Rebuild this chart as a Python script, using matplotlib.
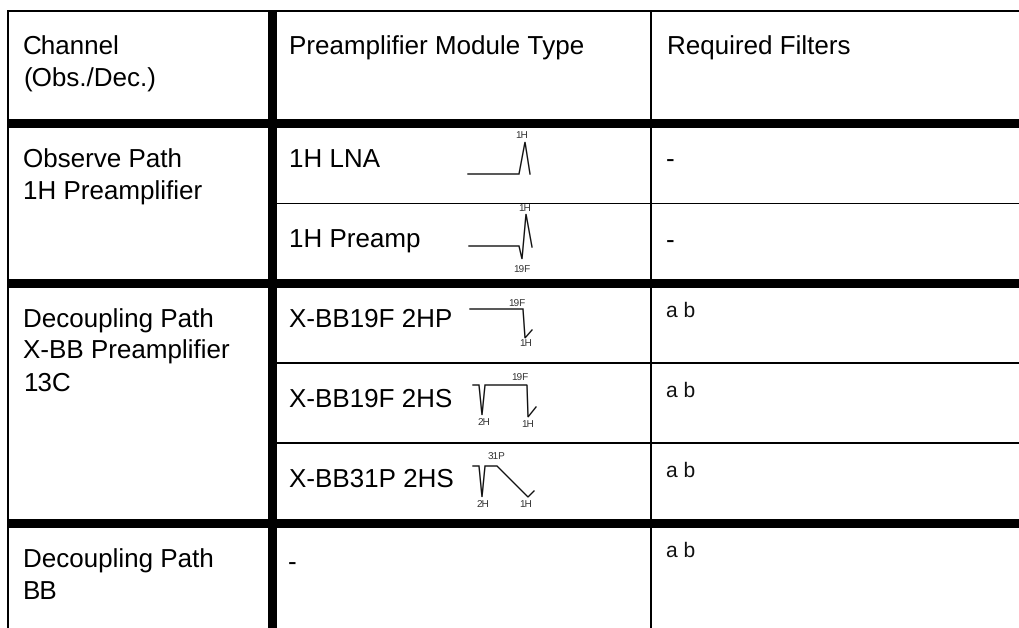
import matplotlib
matplotlib.use("Agg")
import matplotlib.pyplot as plt

plt.rcParams["font.family"] = ["Liberation Sans", "DejaVu Sans"]
plt.rcParams["text.hinting"] = "no_hinting"
plt.rcParams["text.hinting_factor"] = 1

# table rules in pixels: (top edge, bottom edge, left end)
hRules = [
    (10, 12, 7),
    (119, 128, 7),
    (203, 204, 277),
    (279, 288, 7),
    (362, 364, 277),
    (442, 444, 277),
    (519, 527.5, 7),
]
# (left edge, right edge)
vRules = [(7, 9), (268, 277), (650, 652)]

# cell text: (x, first baseline, text)
mainText = [
    (23, 55, "Channel"),
    (23, 87, "(Obs./Dec.)"),
    (289, 55, "Preamplifier Module Type"),
    (667, 55, "Required Filters"),
    (23, 168, "Observe Path"),
    (23, 200, "1H Preamplifier"),
    (289, 167, "1H LNA"),
    (289, 248, "1H Preamp"),
    (666, 168, "-"),
    (666, 249, "-"),
    (23, 328, "Decoupling Path"),
    (23, 359, "X-BB Preamplifier"),
    (23, 391, "13C"),
    (289, 327, "X-BB19F 2HP"),
    (289, 407, "X-BB19F 2HS"),
    (289, 487, "X-BB31P 2HS"),
    (23, 568, "Decoupling Path"),
    (23, 599, "BB"),
    (288, 571, "-"),
]

filterText = [(666, 317, "a b"), (666, 397, "a b"), (666, 477, "a b"), (666, 557, "a b")]

# little module sketches, pixels
traceLna = ([468, 519, 525, 530], [174, 174, 142, 174])
tracePreamp = ([469, 519, 522, 526, 532], [246, 246, 259, 214, 247])
trace2hp = ([470, 523, 525, 532], [309, 309, 338, 330])
trace2hs19 = ([473, 479, 482, 485, 527, 528, 536], [385, 385, 415, 385, 385, 417, 407])
trace2hs31 = ([473, 479, 482, 485, 497, 528, 534], [466, 466, 497, 466, 466, 497, 491])
traces = [traceLna, tracePreamp, trace2hp, trace2hs19, trace2hs31]

traceLabels = [
    (522, 135, "1H"), (525, 208, "1H"), (522, 270, "19F"),
    (517, 304, "19F"), (526, 343, "1H"),
    (520, 378, "19F"), (484, 422, "2H"), (528, 424, "1H"),
    (497, 457, "31P"), (483, 504, "2H"), (526, 504, "1H"),
]

fig = plt.figure(figsize=(10.19, 6.28), dpi=100)
ax = fig.add_axes([0, 0, 1, 1])
ax.set_xlim(0, 1019)
ax.set_ylim(628, 0)
ax.axis("off")

for top, bottom, left in hRules:
    ax.fill_between([left, 1019], top, bottom, color="black", lw=0)
for left, right in vRules:
    ax.fill_betweenx([10, 628], left, right, color="black", lw=0)

for x, y, s in mainText:
    ax.text(x, y, s, fontsize=19.05, color="black", va="baseline", ha="left")
for x, y, s in filterText:
    ax.text(x, y, s, fontsize=15, color="#111111", va="baseline", ha="left")

for xs, ys in traces:
    ax.plot(xs, ys, color="#111111", lw=1.0, solid_joinstyle="miter")
for x, y, s in traceLabels:
    ax.text(x, y, s, fontsize=7.5, color="#333333", va="center", ha="center")

fig.savefig("out.png", dpi=100)
